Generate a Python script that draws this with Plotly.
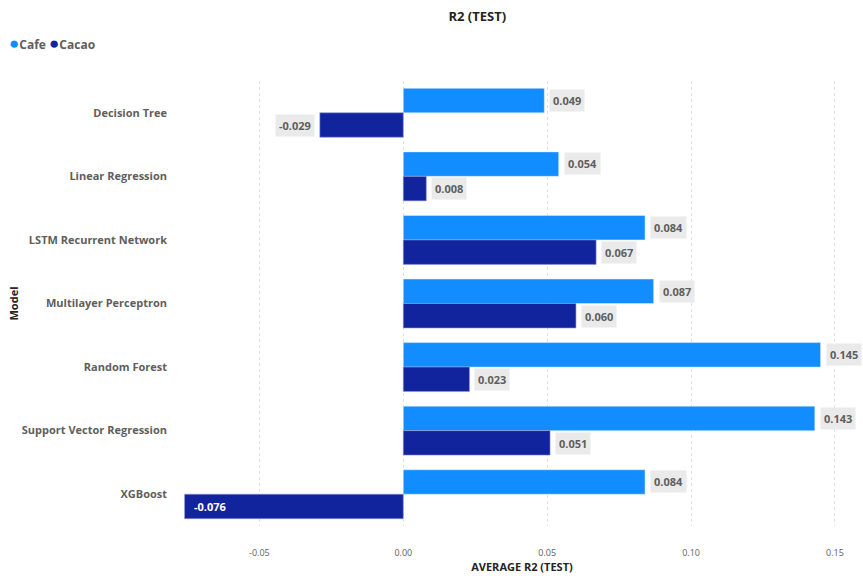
import plotly.graph_objects as go

models = ["Decision Tree", "Linear Regression", "LSTM Recurrent Network",
          "Multilayer Perceptron", "Random Forest", "Support Vector Regression", "XGBoost"]
cafe = [0.049, 0.054, 0.084, 0.087, 0.145, 0.143, 0.084]
cacao = [-0.029, 0.008, 0.067, 0.060, 0.023, 0.051, -0.076]

CAFE_COLOR = "#118DFF"
CACAO_COLOR = "#12239E"
FONT = "Open Sans"
GREY = "#605E5C"

fig = go.Figure()
fig.add_trace(go.Bar(y=models, x=cafe, orientation="h", name="Cafe",
                     marker=dict(color=CAFE_COLOR), showlegend=False))
fig.add_trace(go.Bar(y=models, x=cacao, orientation="h", name="Cacao",
                     marker=dict(color=CACAO_COLOR, line=dict(color="#8f97d8", width=0.6)),
                     showlegend=False))

annotations = []
for series, vals, shift in (("Cafe", cafe, 12.5), ("Cacao", cacao, -12.5)):
    for m, v in zip(models, vals):
        txt = f"{v:.3f}"
        if v < -0.05:
            annotations.append(dict(x=v, y=m, text=txt, showarrow=False, xanchor="left",
                                    xshift=7, yshift=shift,
                                    font=dict(family=FONT, size=11, color="white", weight="bold")))
        elif v >= 0:
            annotations.append(dict(x=v, y=m, text=txt, showarrow=False, xanchor="left",
                                    xshift=5, yshift=shift, bgcolor="#EAEAEA", borderpad=3,
                                    font=dict(family=FONT, size=11, color=GREY, weight="bold")))
        else:
            annotations.append(dict(x=v, y=m, text=txt, showarrow=False, xanchor="right",
                                    xshift=-5, yshift=shift, bgcolor="#EAEAEA", borderpad=3,
                                    font=dict(family=FONT, size=11, color=GREY, weight="bold")))

# legend drawn as text with circle glyphs
annotations.append(dict(
    xref="paper", yref="paper", x=-184/676 + 7/676, y=1 + (81 - 43) / 445,
    showarrow=False, xanchor="left", yanchor="middle",
    text=(f"<span style='color:{CAFE_COLOR};font-size:17px'>●</span>Cafe "
          f"<span style='color:{CACAO_COLOR};font-size:17px'>●</span>Cacao"),
    font=dict(family=FONT, size=12, color=GREY, weight="bold")))

fig.update_layout(
    width=863, height=578,
    margin=dict(l=184, r=3, t=81, b=52),
    plot_bgcolor="white", paper_bgcolor="white",
    barmode="group", bargap=0.23, bargroupgap=0,
    showlegend=False,
    title=dict(text="<b>R2 (TEST)</b>", x=0.553, xanchor="center", y=0.972, yanchor="middle",
               font=dict(family=FONT, size=13, color="#252423")),
    font=dict(family=FONT),
    annotations=annotations,
)
fig.update_xaxes(range=[-0.0762, 0.1587], tickvals=[-0.05, 0, 0.05, 0.10, 0.15],
                 ticktext=["-0.05", "0.00", "0.05", "0.10", "0.15"],
                 showgrid=True, gridcolor="#E0E0E0", griddash="dot", gridwidth=1,
                 zeroline=False, showline=False, ticks="", ticklabelstandoff=20,
                 tickfont=dict(family=FONT, size=9, color=GREY),
                 title=dict(text="<b>AVERAGE R2 (TEST)</b>", standoff=4,
                            font=dict(family=FONT, size=11, color="#252423")))
fig.update_yaxes(autorange="reversed", showgrid=False, zeroline=False, showline=False,
                 ticks="", ticklabelstandoff=16,
                 tickfont=dict(family=FONT, size=11, color=GREY, weight="bold"),
                 title=dict(text="<b>Model</b>", standoff=0,
                            font=dict(family=FONT, size=11, color="#252423")))

fig.write_html("out.html")
